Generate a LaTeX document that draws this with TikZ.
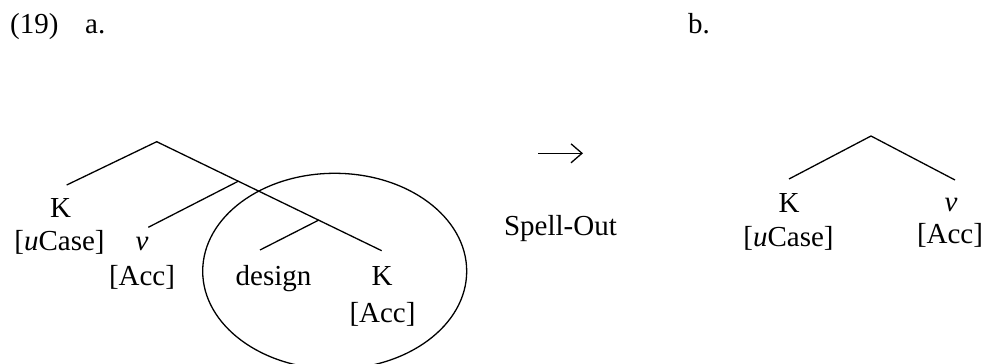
\documentclass[tikz,border=0pt]{standalone}
\usepackage{fontspec}
\setmainfont{Liberation Serif}
\usetikzlibrary{arrows.meta}
\begin{document}
\begin{tikzpicture}[x=1pt,y=-1pt,
  every node/.style={font=\fontsize{29}{34}\selectfont, inner sep=0pt},
  lbl/.style={anchor=base},
  branch/.style={line width=1.3pt},
  circled/.style={line width=1.3pt}]
\useasboundingbox (0,0) rectangle (986,364);

% example number and sub-labels
\node[anchor=base west] (exnum) at (10,33) {(19)};
\node[anchor=base west] (suba) at (85,33) {a.};
\node[anchor=base west] (subb) at (688,33) {b.};

% ---- tree (a) ----
\coordinate (rootA) at (156.7,141.7);
\coordinate (kAtop) at (66.7,185);
\coordinate (kBtop) at (381.7,250.7);
\coordinate (vbranch) at (238.3,181.2);
\coordinate (vtop) at (148.3,227.3);
\coordinate (dbranch) at (318.3,220.3);
\coordinate (dtop) at (260,250);

\node[lbl] (kA) at (60.5,217) {K};
\node[lbl] (ucaseA) at (59.5,250) {[\textit{u}Case]};
\node[lbl] (vA) at (142,250) {\textit{v}};
\node[lbl] (accA) at (142,285) {[Acc]};
\node[lbl] (design) at (273.5,285) {design};
\node[lbl] (kB) at (382,285) {K};
\node[lbl] (accB) at (382.5,322) {[Acc]};

\draw[branch] (kAtop) -- (rootA) -- (kBtop);
\draw[branch] (vbranch) -- (vtop);
\draw[branch] (dbranch) -- (dtop);

% spelled-out domain
\draw[circled] (334.7,271.2) ellipse [x radius=132, y radius=97.9];

% ---- Spell-Out arrow ----
\coordinate (arrowL) at (538,153.3);
\coordinate (arrowR) at (583,153.3);
\draw[line width=1.3pt, -{Straight Barb[length=11pt,width=19pt,line width=1.3pt]}] (arrowL) -- (arrowR);
\node[lbl] (spell) at (560.5,235) {Spell-Out};

% ---- tree (b) ----
\coordinate (rootB) at (871,136);
\coordinate (kCtop) at (789,179);
\coordinate (vCtop) at (955,180);

\node[lbl] (kC) at (789,212) {K};
\node[lbl] (ucaseC) at (788.5,246.7) {[\textit{u}Case]};
\node[lbl] (vC) at (951,211.7) {\textit{v}};
\node[lbl] (accC) at (950,243) {[Acc]};

\draw[branch] (kCtop) -- (rootB) -- (vCtop);
\end{tikzpicture}
\end{document}
